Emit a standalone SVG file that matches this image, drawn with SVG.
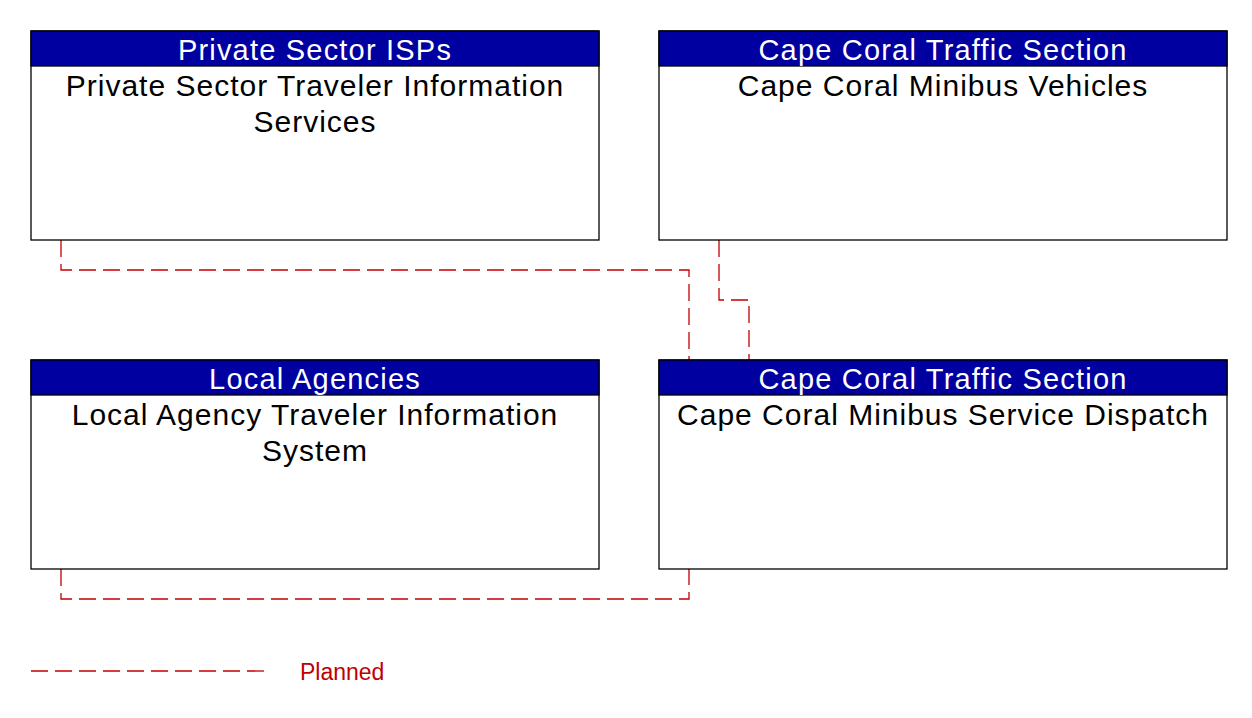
<svg xmlns="http://www.w3.org/2000/svg" width="1252" height="718" viewBox="0 0 1252 718">
<style>
.box{fill:#fff;stroke:#000;stroke-width:1.3}
.hdr{fill:#0000a0;stroke:#000;stroke-width:1.3}
.ht{font-family:"Liberation Sans",Arial,sans-serif;font-size:29px;letter-spacing:1.2px;fill:#fff;text-anchor:middle}
.bt{font-family:"Liberation Sans",Arial,sans-serif;font-size:30px;letter-spacing:1px;fill:#000;text-anchor:middle}
.c{fill:none;stroke:#c00000;stroke-width:1.3;stroke-dasharray:17 7}
.lg{font-family:"Liberation Sans",Arial,sans-serif;font-size:23px;fill:#c00000}
</style>
<rect width="1252" height="718" fill="#fff"/>
<g id="conns">
<path class="c" d="M61 240 V270 H689 V360"/>
<path class="c" d="M719 240 V300 H749 V360"/>
<path class="c" d="M61 569 V599 H689 V569"/>
</g>
<g id="n1">
<rect class="box" x="31" y="31" width="568" height="209"/>
<rect class="hdr" x="31" y="31" width="568" height="35"/>
<text class="ht" x="315" y="60">Private Sector ISPs</text>
<text class="bt" x="315" y="96">Private Sector Traveler Information</text>
<text class="bt" x="315" y="132">Services</text>
</g>
<g id="n2">
<rect class="box" x="659" y="31" width="568" height="209"/>
<rect class="hdr" x="659" y="31" width="568" height="35"/>
<text class="ht" x="943" y="60">Cape Coral Traffic Section</text>
<text class="bt" x="943" y="96">Cape Coral Minibus Vehicles</text>
</g>
<g id="n3">
<rect class="box" x="31" y="360" width="568" height="209"/>
<rect class="hdr" x="31" y="360" width="568" height="35"/>
<text class="ht" x="315" y="389">Local Agencies</text>
<text class="bt" x="315" y="425">Local Agency Traveler Information</text>
<text class="bt" x="315" y="461">System</text>
</g>
<g id="n4">
<rect class="box" x="659" y="360" width="568" height="209"/>
<rect class="hdr" x="659" y="360" width="568" height="35"/>
<text class="ht" x="943" y="389">Cape Coral Traffic Section</text>
<text class="bt" x="943" y="425">Cape Coral Minibus Service Dispatch</text>
</g>
<g id="legend">
<path class="c" d="M31 671 H265"/>
<text class="lg" x="300" y="680">Planned</text>
</g>
</svg>
